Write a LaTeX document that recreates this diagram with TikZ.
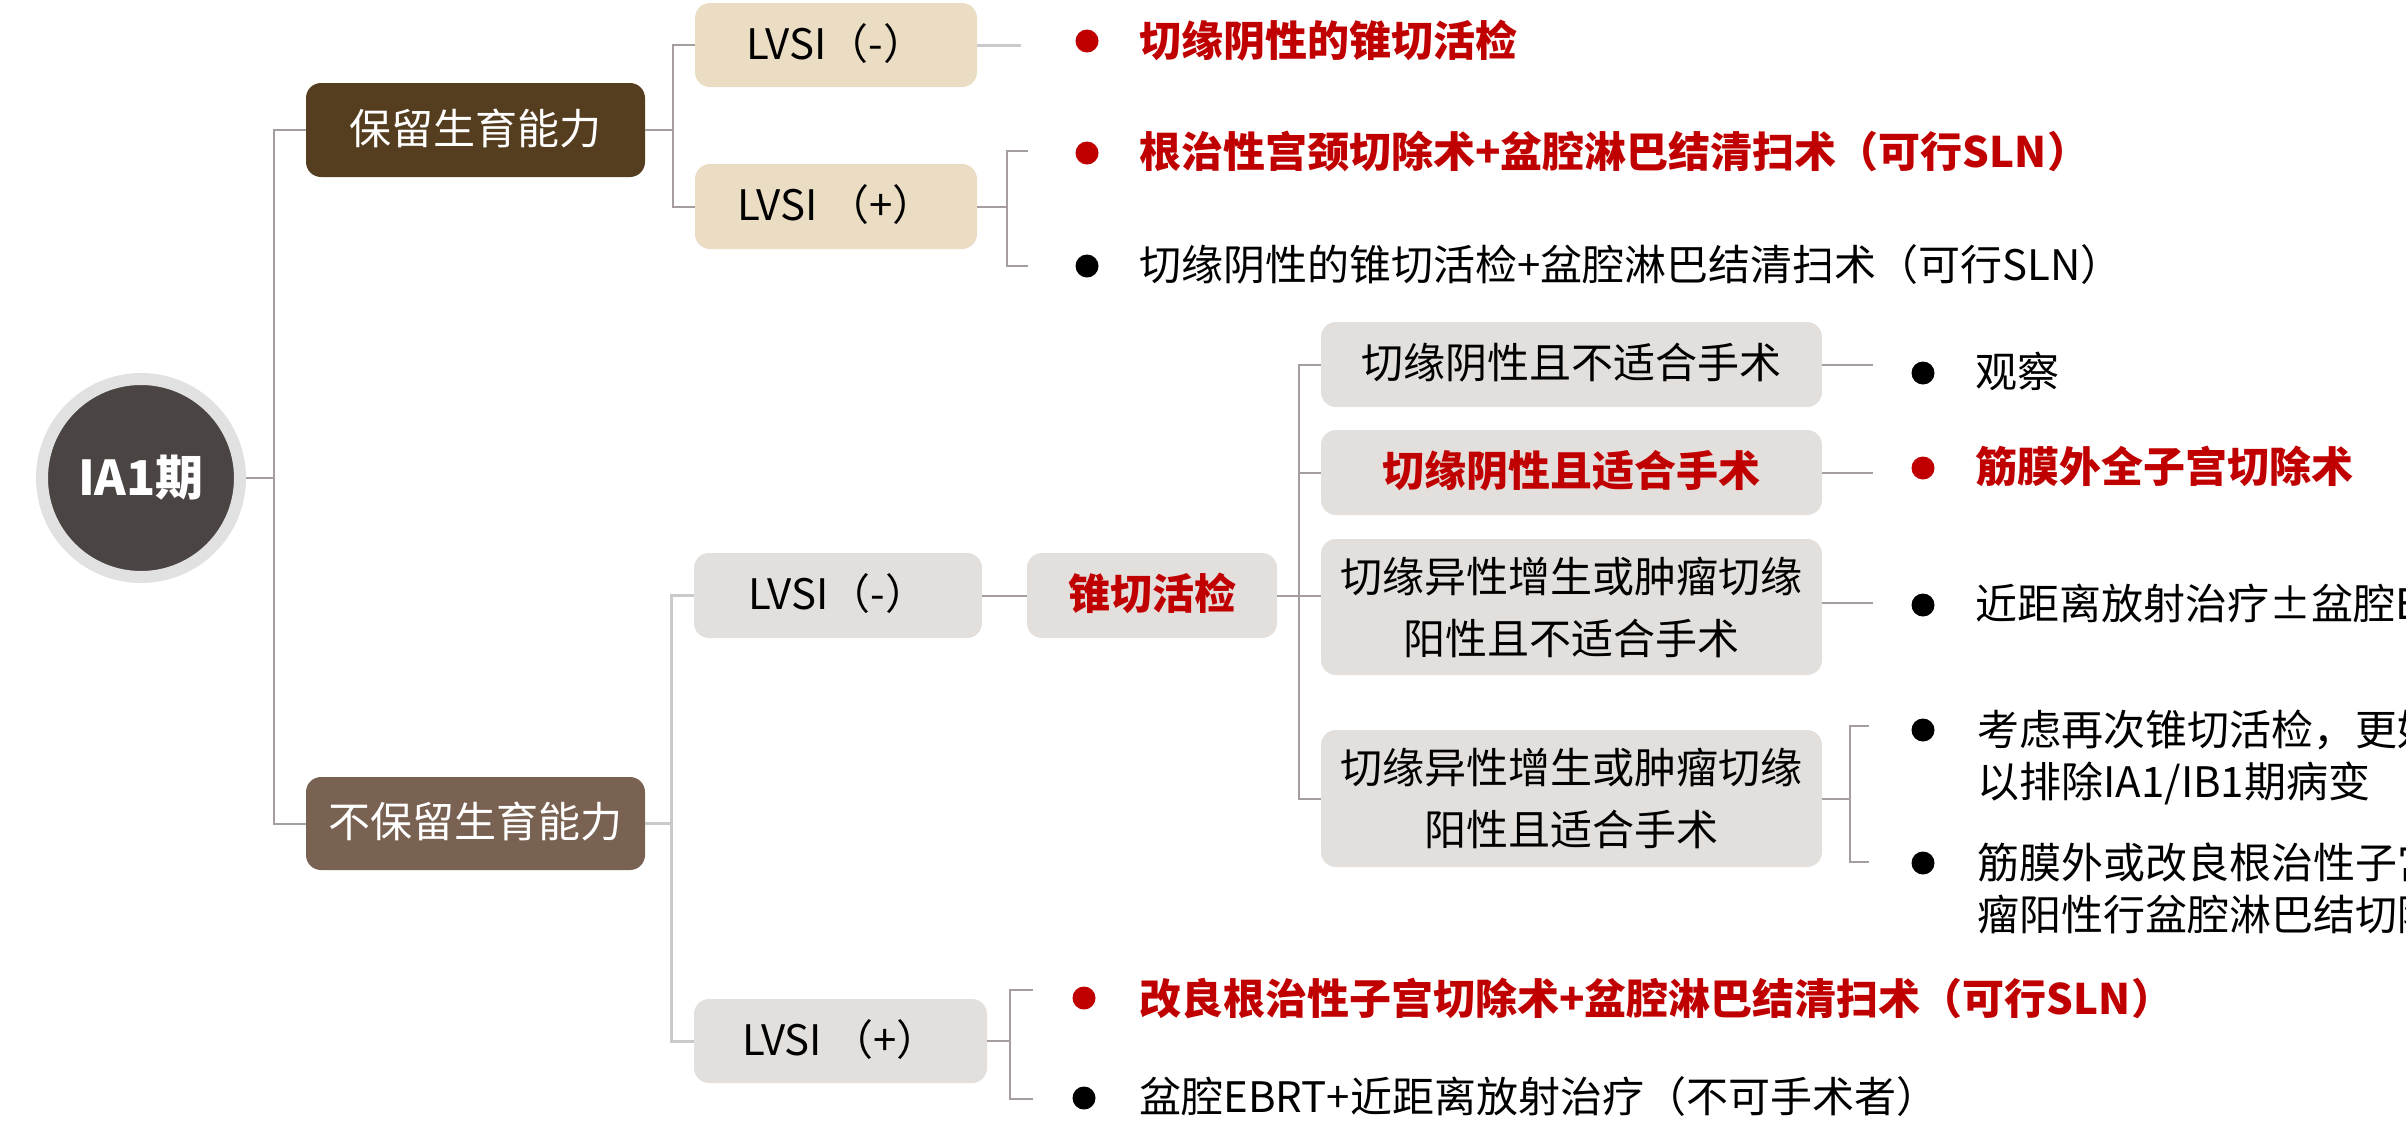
\documentclass[tikz,border=0pt]{standalone}
\usepackage{fontspec}
\setmainfont{Noto Sans CJK SC}
\definecolor{rootfill}{HTML}{4A4443}
\definecolor{ringc}{HTML}{E1E1E1}
\definecolor{keepc}{HTML}{553E1F}
\definecolor{nokeepc}{HTML}{7A6253}
\definecolor{beige}{HTML}{EBDDC4}
\definecolor{greybox}{HTML}{E3DFDC}
\definecolor{redc}{HTML}{C00000}
\definecolor{lineA}{HTML}{A69E9E}
\definecolor{lineL}{HTML}{CACACA}
\begin{document}
\begin{tikzpicture}[x=0.5pt,y=-0.5pt,
  fs/.style={font=\fontsize{21pt}{31pt}\selectfont},
  bold/.style={font=\fontsize{21pt}{31pt}\selectfont\bfseries},
  box/.style={rounded corners=7.5pt, inner sep=0pt, align=center, fs},
  one/.style={text height=16.4pt, text depth=2.1pt},
  lab/.style={anchor=west, inner sep=0pt, fs, text height=16.4pt, text depth=2.1pt},
  dot/.style={circle, inner sep=0pt, minimum size=11.5pt},
  conn/.style={draw=lineA, line width=1pt},
  lconn/.style={draw=lineL, line width=1.5pt}]
\useasboundingbox (0,0) rectangle (2406,1131);
\clip (0,0) rectangle (2406,1131);

% root
\node[circle, fill=rootfill, draw=ringc, line width=6pt, minimum size=99pt, inner sep=0pt,
      text=white, font=\fontsize{24pt}{28pt}\selectfont\bfseries] (root) at (141,478) {IA1期};

% level 1
\node[box, one, fill=keepc, text=white, minimum width=169.5pt, minimum height=47pt] (keep) at (475.5,130) {保留生育能力};
\node[box, one, fill=nokeepc, text=white, minimum width=169.5pt, minimum height=46.5pt] (nokeep) at (475.5,823.5) {不保留生育能力};

% level 2
\node[box, one, fill=beige, minimum width=141pt, minimum height=42pt] (lvsiA) at (836,45) {LVSI（-）};
\node[box, one, fill=beige, minimum width=141pt, minimum height=42.5pt] (lvsiB) at (836,206.5) {LVSI （+）};
\node[box, one, fill=greybox, minimum width=144pt, minimum height=42.5pt] (lvsiC) at (838,595.5) {LVSI（-）};
\node[box, one, fill=greybox, minimum width=146.5pt, minimum height=42pt] (lvsiD) at (840.5,1041) {LVSI （+）};

% cone biopsy
\node[box, one, bold, fill=greybox, text=redc, minimum width=125pt, minimum height=42.5pt] (cone) at (1152,595.5) {锥切活检};

% sub boxes
\node[box, one, fill=greybox, minimum width=250.5pt, minimum height=42.5pt] (s1) at (1571.5,364.5) {切缘阴性且不适合手术};
\node[box, one, bold, fill=greybox, text=redc, minimum width=250.5pt, minimum height=42.5pt] (s2) at (1571.5,472.5) {切缘阴性且适合手术};
\node[box, fill=greybox, minimum width=250.5pt, minimum height=68pt] (s3) at (1571.5,607) {切缘异性增生或肿瘤切缘\\阳性且不适合手术};
\node[box, fill=greybox, minimum width=250.5pt, minimum height=68.5pt] (s4) at (1571.5,798.5) {切缘异性增生或肿瘤切缘\\阳性且适合手术};

% bullets top
\node[dot, fill=redc] (a1) at (1087,41) {};
\node[lab, bold, text=redc] (ta1) at (1139,42) {切缘阴性的锥切活检};
\node[dot, fill=redc] (a2) at (1087,153) {};
\node[lab, bold, text=redc] (ta2) at (1139,153) {根治性宫颈切除术+盆腔淋巴结清扫术（可行SLN）};
\node[dot, fill=black] (a3) at (1087,266) {};
\node[lab] (ta3) at (1139,266) {切缘阴性的锥切活检+盆腔淋巴结清扫术（可行SLN）};

% bullets middle
\node[dot, fill=black] (c1) at (1923,373) {};
\node[lab] (tc1) at (1975,373) {观察};
\node[dot, fill=redc] (c2) at (1923,468) {};
\node[lab, bold, text=redc] (tc2) at (1975,468) {筋膜外全子宫切除术};
\node[dot, fill=black] (c3) at (1923,605) {};
\node[lab] (tc3) at (1975,605) {近距离放射治疗±盆腔EBRT};
\node[dot, fill=black] (c4) at (1923,730) {};
\node[lab] (tc4a) at (1977,731) {考虑再次锥切活检，更好};
\node[lab] (tc4b) at (1977,783) {以排除IA1/IB1期病变};
\node[dot, fill=black] (c5) at (1923,863) {};
\node[lab] (tc5a) at (1977,864) {筋膜外或改良根治性子宫};
\node[lab] (tc5b) at (1977,916) {瘤阳性行盆腔淋巴结切除};

% bullets bottom
\node[dot, fill=redc] (d1) at (1084,998) {};
\node[lab, bold, text=redc] (td1) at (1139,1000) {改良根治性子宫切除术+盆腔淋巴结清扫术（可行SLN）};
\node[dot, fill=black] (d2) at (1084,1098) {};
\node[lab] (td2) at (1139,1098) {盆腔EBRT+近距离放射治疗（不可手术者）};

% connectors
\coordinate (j1) at (274,478);
\draw[conn] (root.east) -- (j1);
\draw[conn] (keep.west) -| (j1) |- (nokeep.west);

\coordinate (j2) at (673,130);
\draw[conn] (keep.east) -- (j2);
\draw[conn] (lvsiA.west) -| (j2) |- (lvsiB.west);
\coordinate (eA) at (1021,45);
\draw[lconn] (lvsiA.east) -- (eA);
\coordinate (j3) at (1007,206.5);
\coordinate (tB1) at (1028,151);
\coordinate (tB2) at (1028,266);
\draw[conn] (lvsiB.east) -- (j3);
\draw[conn] (tB1) -| (j3) |- (tB2);

\coordinate (j4) at (671,823.5);
\draw[lconn] (nokeep.east) -- (j4);
\draw[lconn] (lvsiC.west) -| (j4) |- (lvsiD.west);
\draw[conn] (lvsiC.east) -- (cone.west);
\coordinate (j5) at (1299,595.5);
\draw[conn] (cone.east) -- (j5);
\draw[conn] (s1.west) -| (j5) |- (s4.west);
\draw[conn] (s2.west) -- (s2.west -| j5);
\draw[conn] (j5) -- (j5 -| s3.west);

\coordinate (r1) at (1873,364.5);
\coordinate (r2) at (1873,472.5);
\coordinate (r3) at (1873,603);
\draw[conn] (s1.east) -- (r1);
\draw[conn] (s2.east) -- (r2);
\draw[conn] (r3 -| s3.east) -- (r3);
\coordinate (j6) at (1850,798.5);
\coordinate (tC1) at (1869,726);
\coordinate (tC2) at (1869,862);
\draw[conn] (s4.east) -- (j6);
\draw[conn] (tC1) -| (j6) |- (tC2);

\coordinate (j7) at (1010,1041);
\coordinate (tD1) at (1033,990);
\coordinate (tD2) at (1033,1099);
\draw[conn] (lvsiD.east) -- (j7);
\draw[conn] (tD1) -| (j7) |- (tD2);
\end{tikzpicture}
\end{document}
